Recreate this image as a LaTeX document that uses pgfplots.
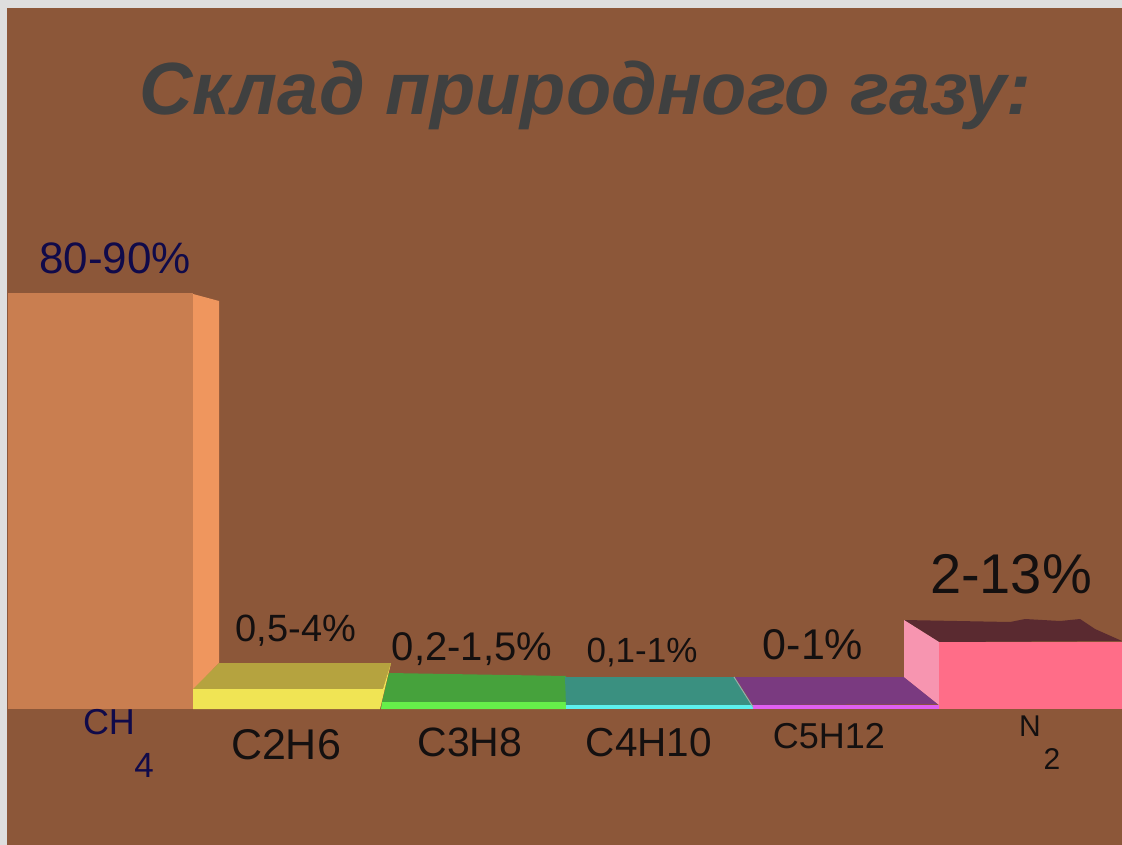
\documentclass[border=0pt]{standalone}
\usepackage{pgfplots}
\pgfplotsset{compat=1.18}
\usepackage{fontspec}
\setmainfont{Liberation Sans}
\definecolor{panelc}{HTML}{8C5739}
\definecolor{framec}{HTML}{DEDEDE}
\definecolor{inkc}{HTML}{141010}
\definecolor{navyc}{HTML}{100A4A}
\definecolor{titlec}{HTML}{3F4040}
\definecolor{chfront}{RGB}{201,126,80}
\definecolor{chside}{RGB}{239,150,94}
\definecolor{cetop}{RGB}{181,163,63}
\definecolor{cefront}{RGB}{240,228,84}
\definecolor{prtop}{RGB}{70,162,60}
\definecolor{prfront}{RGB}{102,240,74}
\definecolor{butop}{RGB}{58,144,128}
\definecolor{bufront}{RGB}{92,240,236}
\definecolor{pntop}{RGB}{122,58,128}
\definecolor{pnfront}{RGB}{224,96,240}
\definecolor{sepc}{RGB}{150,170,170}
\definecolor{ntop}{RGB}{90,42,48}
\definecolor{nside}{RGB}{247,149,176}
\definecolor{nfront}{RGB}{255,109,136}
\newcommand{\fsz}[1]{\fontsize{#1}{#1}\selectfont}
\tikzset{lab/.style={anchor=base,inner sep=0pt,text=inkc}}
\begin{document}
\begin{tikzpicture}
\begin{axis}[
  scale only axis, width=1122pt, height=845pt,
  xmin=0, xmax=1122, ymin=0, ymax=845, y dir=reverse,
  hide axis, clip=true,
]
% background panel
\addplot[fill=framec,draw=none] coordinates {(0,0)(1122,0)(1122,845)(0,845)} --cycle;
\addplot[fill=panelc,draw=none] coordinates {(7,8)(1122,8)(1122,845)(7,845)} --cycle;
% CH4
\addplot[fill=chside,draw=none] coordinates {(193,294)(219,301)(219,663)(193,690)(193,709)} --cycle;
\addplot[fill=chfront,draw=none] coordinates {(8,293)(193,293)(193,709)(8,709)} --cycle;
% C3H8
\addplot[fill=prtop,draw=none] coordinates {(389,673)(566,676)(566,702)(382,702)} --cycle;
\addplot[fill=prfront,draw=none] coordinates {(382,702)(566,702)(566,709)(381,709)} --cycle;
% C2H6
\addplot[fill=cetop,draw=none] coordinates {(219,663)(391,663)(383,689)(193,689)} --cycle;
\addplot[fill=cefront,draw=none] coordinates {(193,689)(383,689)(391,663)(380,709)(193,709)} --cycle;
% C4H10
\addplot[fill=butop,draw=none] coordinates {(565,677)(734,677)(752,705)(566,705)} --cycle;
\addplot[fill=bufront,draw=none] coordinates {(566,705)(753,705)(753,709)(566,709)} --cycle;
% C5H12
\addplot[fill=pntop,draw=none] coordinates {(735,677)(904,677)(938,704)(753,705)} --cycle;
\addplot[fill=pnfront,draw=none] coordinates {(753,705)(939,705)(939,709)(753,709)} --cycle;
\addplot[draw=sepc,line width=1pt] coordinates {(734,677)(753,707)};
% N2
\addplot[fill=ntop,draw=none] coordinates {(904,620)(1010,622)(1025,619)(1060,621)(1080,619)(1095,629)(1122,641)(939,642)} --cycle;
\addplot[fill=nside,draw=none] coordinates {(904,620)(939,642)(939,705)(904,677)} --cycle;
\addplot[fill=nfront,draw=none] coordinates {(939,642)(1122,642)(1122,709)(939,709)} --cycle;
% title
\node[lab,text=titlec] at (axis cs:585,115) {\fsz{74}\bfseries\itshape Склад природного газу:};
% value labels
\node[lab,text=navyc] at (axis cs:115,273) {\fsz{44}80-90\%};
\node[lab] at (axis cs:296,641) {\fsz{38}0,5-4\%};
\node[lab] at (axis cs:472,660) {\fsz{40}0,2-1,5\%};
\node[lab] at (axis cs:642,662) {\fsz{35}0,1-1\%};
\node[lab] at (axis cs:813,659) {\fsz{43}0-1\%};
\node[lab] at (axis cs:1011,593) {\fsz{56}2-13\%};
% category labels
\node[lab,text=navyc] at (axis cs:109,734) {\fsz{36}CH};
\node[lab,text=navyc] at (axis cs:144,777) {\fsz{35}4};
\node[lab] at (axis cs:286,759) {\fsz{43}C2H6};
\node[lab] at (axis cs:470,756) {\fsz{41}C3H8};
\node[lab] at (axis cs:649,756) {\fsz{40.5}C4H10};
\node[lab] at (axis cs:829,748) {\fsz{36}C5H12};
\node[lab] at (axis cs:1030,736) {\fsz{30}N};
\node[lab] at (axis cs:1052,769) {\fsz{30}2};
\end{axis}
\end{tikzpicture}
\end{document}
